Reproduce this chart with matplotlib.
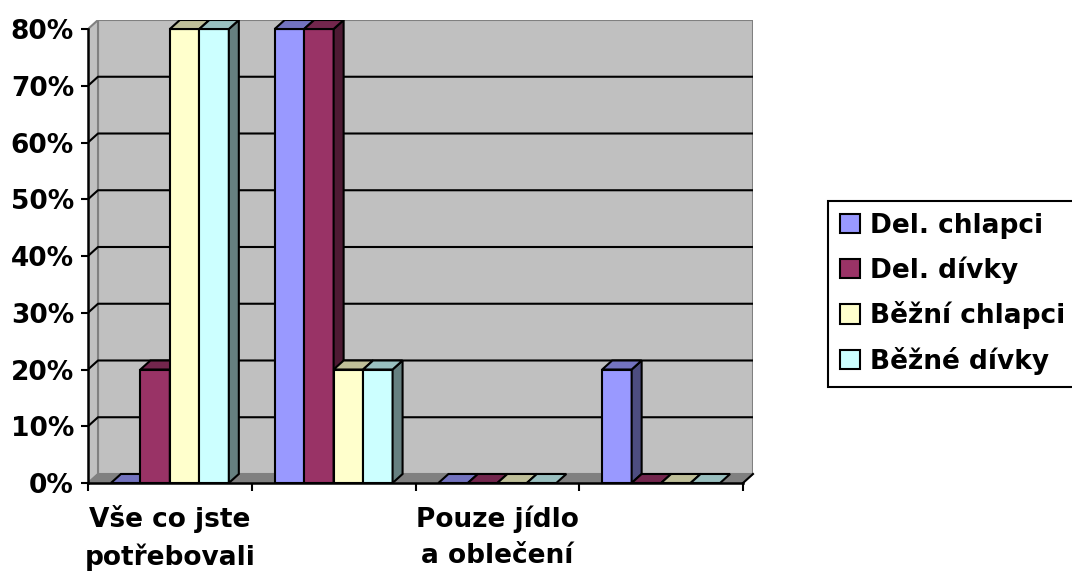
import matplotlib.pyplot as plt
from matplotlib.patches import Polygon, Patch

# data
categories = ['Vše co jste\npotřebovali', '', 'Pouze jídlo\na oblečení', '']
series = ['Del. chlapci', 'Del. dívky', 'Běžní chlapci', 'Běžné dívky']
del_chlapci = [0, 80, 0, 20]
del_divky = [20, 80, 0, 0]
bezni_chlapci = [80, 20, 0, 0]
bezne_divky = [80, 20, 0, 0]
values = [del_chlapci, del_divky, bezni_chlapci, bezne_divky]

colors = ['#9999FF', '#993366', '#FFFFCC', '#CCFFFF']

plt.rcParams['font.family'] = ['DejaVu Sans']
plt.rcParams['font.weight'] = 'bold'


def shade(c, f):
    c = c.lstrip('#')
    r, g, b = (int(c[i:i + 2], 16) / 255 for i in (0, 2, 4))
    return (r * f, g * f, b * f)


fig = plt.figure(figsize=(10.72, 5.74), dpi=100)

# depth offset (3D look), in data units
DX = 10 / 163.75
DY = 9 / 5.67
ymax = 80
ncat = len(categories)

ax = fig.add_axes([88 / 1072, 91 / 574, 665 / 1072, 463 / 574])
ax.set_xlim(0, ncat + DX)
ax.set_ylim(0, ymax + DY)
ax.patch.set_visible(False)

# back wall
ax.add_patch(Polygon([(DX, DY), (ncat + DX, DY), (ncat + DX, ymax + DY), (DX, ymax + DY)],
                     closed=True, facecolor='#C0C0C0', edgecolor='#808080', lw=1.5, zorder=1))
# side wall
ax.add_patch(Polygon([(0, 0), (DX, DY), (DX, ymax + DY), (0, ymax)],
                     closed=True, facecolor='#C0C0C0', edgecolor='#808080', lw=1.5, zorder=1))
# gridlines
for v in range(10, ymax, 10):
    ax.plot([0, DX, ncat + DX], [v, v + DY, v + DY], color='black', lw=1.5, zorder=2)
# floor
ax.add_patch(Polygon([(0, 0), (ncat, 0), (ncat + DX, DY), (DX, DY)],
                     closed=True, facecolor='#808080', edgecolor='#808080', lw=1, zorder=2))
ax.plot([ncat, ncat + DX], [0, DY], color='black', lw=1.5, zorder=3, clip_on=False)

# bars
w = 0.18
off = (1 - w * len(series)) / 2
z = 5
for j in range(ncat):
    for i, s in enumerate(series):
        h = values[i][j]
        x0 = j + off + i * w
        x1 = x0 + w
        c = colors[i]
        if h > 0:
            ax.add_patch(Polygon([(x0, 0), (x1, 0), (x1, h), (x0, h)], closed=True,
                                 facecolor=c, edgecolor='black', lw=1.5, zorder=z))
            ax.add_patch(Polygon([(x1, 0), (x1 + DX, DY), (x1 + DX, h + DY), (x1, h)], closed=True,
                                 facecolor=shade(c, 0.5), edgecolor='black', lw=1.5, zorder=z))
        ax.add_patch(Polygon([(x0, h), (x1, h), (x1 + DX, h + DY), (x0 + DX, h + DY)], closed=True,
                             facecolor=shade(c, 0.75), edgecolor='black', lw=1.5, zorder=z))
        z += 1

# axes
for sp in ['top', 'right']:
    ax.spines[sp].set_visible(False)
ax.spines['left'].set_bounds(0, ymax)
ax.spines['bottom'].set_bounds(0, ncat)
ax.spines['left'].set_linewidth(1.8)
ax.spines['bottom'].set_linewidth(1.8)
ax.spines['left'].set_zorder(50)
ax.spines['bottom'].set_zorder(50)

ax.set_yticks(range(0, ymax + 1, 10))
ax.set_yticklabels([f'{v}%' for v in range(0, ymax + 1, 10)], fontsize=19, fontweight='bold')
ax.tick_params(axis='y', direction='out', length=5, width=1.5, pad=5)

ax.set_xticks(range(ncat + 1))
ax.set_xticklabels([])
ax.tick_params(axis='x', which='major', direction='out', length=6, width=1.5)
ax.set_xticks([j + 0.5 for j in range(ncat)], minor=True)
ax.set_xticklabels(categories, minor=True, fontsize=19, fontweight='bold', linespacing=1.5)
ax.tick_params(axis='x', which='minor', length=0, pad=16)

handles = [Patch(facecolor=c, edgecolor='black', lw=1.5) for c in colors]
leg = fig.legend(handles, series, loc='upper left', bbox_to_anchor=(828 / 1072, 1 - 201 / 574),
                 frameon=True, fancybox=False, framealpha=1, edgecolor='black',
                 borderaxespad=0, handlelength=0.76, handleheight=0.76, handletextpad=0.38,
                 labelspacing=0.66, borderpad=0.45, prop={'size': 19, 'weight': 'bold'})
leg.get_frame().set_linewidth(1.5)

fig.savefig('out.png', dpi=100)
